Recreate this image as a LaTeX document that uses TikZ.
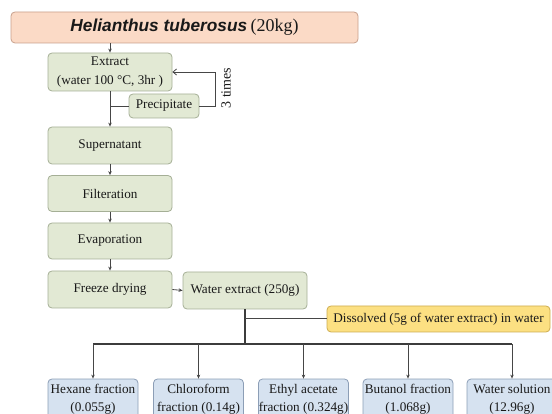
\documentclass[tikz,border=0pt]{standalone}
\usepackage{fontspec}
\setmainfont{Liberation Serif}
\newfontfamily\arialfont{Liberation Sans}
\usetikzlibrary{arrows.meta}
\definecolor{gfill}{RGB}{226,233,212}
\definecolor{gbord}{RGB}{165,175,150}
\definecolor{pfill}{RGB}{251,218,198}
\definecolor{pbord}{RGB}{200,160,140}
\definecolor{yfill}{RGB}{252,224,130}
\definecolor{ybord}{RGB}{205,172,80}
\definecolor{bfill}{RGB}{214,226,240}
\definecolor{bbord}{RGB}{140,158,182}
\definecolor{linec}{RGB}{70,70,70}
\definecolor{txt}{RGB}{25,25,25}
\begin{document}
\begin{tikzpicture}[x=1pt,y=-1pt,
  base/.style={rounded corners=4pt, line width=0.8pt, align=center, inner sep=0pt, text=txt,
    font=\fontsize{13.2}{19}\selectfont},
  greenbox/.style={base, draw=gbord, fill=gfill, minimum width=124, minimum height=37},
  bluebox/.style={base, draw=bbord, fill=bfill, minimum width=90, minimum height=40,
    font=\fontsize{13.2}{18}\selectfont},
  arr/.style={draw=linec, line width=0.8pt, -{Stealth[length=4pt,width=3.5pt]}},
  ln/.style={draw=linec, line width=0.8pt},
  thick line/.style={draw=linec!85!black, line width=1.6pt}]
\useasboundingbox (0,0) rectangle (552,414);
\clip (0,0) rectangle (552,414);

\node[base, draw=pbord, fill=pfill, minimum width=347, minimum height=31] (top) at (184.5,27.5)
  {{\arialfont\bfseries\itshape\fontsize{17.3}{20}\selectfont Helianthus tuberosus}\ {\fontsize{18}{20}\selectfont (20kg)}};

\node[greenbox, minimum height=38] (ext) at (110,72) {Extract\\(water 100 °C, 3hr )};
\node[greenbox, minimum width=70, minimum height=24] (pre) at (164,106) {Precipitate};
\node[greenbox] (sup) at (110,145.5) {Supernatant};
\node[greenbox, minimum height=36] (fil) at (110,193.5) {Filteration};
\node[greenbox, minimum height=36] (eva) at (110,241) {Evaporation};
\node[greenbox] (fre) at (110,289.5) {Freeze drying};
\node[greenbox] (wex) at (245,290.5) {Water extract (250g)};
\node[base, draw=ybord, fill=yfill, minimum width=223, minimum height=26] (dis) at (438.5,319)
  {Dissolved (5g of water extract) in water};

\node[bluebox] (hex) at (93,399) {Hexane fraction\\(0.055g)};
\node[bluebox] (chl) at (198.5,399) {Chloroform\\fraction (0.14g)};
\node[bluebox] (eth) at (303.5,399) {Ethyl acetate\\fraction (0.324g)};
\node[bluebox] (but) at (408,399) {Butanol fraction\\(1.068g)};
\node[bluebox] (wat) at (512,399) {Water solution\\(12.96g)};

\node[rotate=90, text=txt, font=\fontsize{14}{16}\selectfont] (times) at (226,88) {3 times};

% connectors
\draw[arr] (ext.north |- top.south) -- (ext.north);
\draw[ln, -{Straight Barb[length=3.5pt,width=6pt]}] (pre.east) -- ++(16,0) |- (ext.east);
\draw[ln] (pre.west) -- (pre.west -| ext.south);
\draw[arr] (ext.south) -- (sup.north);
\draw[arr] (sup.south) -- (fil.north);
\draw[arr] (fil.south) -- (eva.north);
\draw[arr] (eva.south) -- (fre.north);
\draw[arr] (fre.east) -- (wex.west);

\coordinate (busc) at (245,344);
\draw[thick line] (wex.south) -- (busc);
\draw[ln, line width=1pt] (dis.west -| wex.south) -- (dis.west);
\draw[thick line] (hex.north |- busc) -- (wat.north |- busc);
\foreach \b in {hex,chl,eth,but,wat}
  \draw[arr, line width=1pt] (\b.north |- busc) -- (\b.north);
\end{tikzpicture}
\end{document}
